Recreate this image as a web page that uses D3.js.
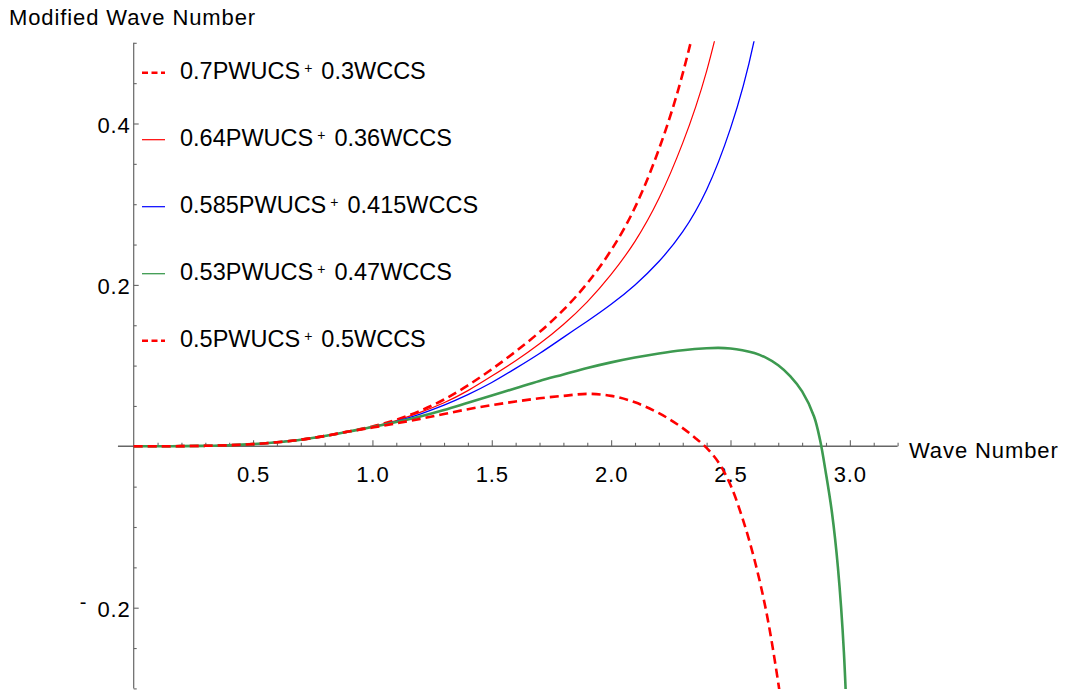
<!DOCTYPE html>
<html>
<head>
<meta charset="utf-8">
<script src="https://cdn.jsdelivr.net/npm/d3@7"></script>
<style>
  html, body { margin: 0; padding: 0; background: #fff; }
  svg { display: block; }
  text { font-family: "Liberation Sans", Arial, sans-serif; fill: #000; }
</style>
</head>
<body>
<svg id="chart" width="1065" height="692"></svg>
<script>
// Mixture weights shown in the legend
const pwucsShare = ["0.7", "0.64", "0.585", "0.53", "0.5"];
const wccsShare  = ["0.3", "0.36", "0.415", "0.47", "0.5"];

// Shared low-wavenumber part (all mixtures coincide here)
const kLow = [0, 0.1, 0.2, 0.3, 0.4, 0.5, 0.6, 0.7, 0.8, 0.9];
const wLow = [0, 0.00002, 0.0002, 0.0006, 0.0013, 0.0027, 0.005, 0.0082, 0.0127, 0.0183];

// 0.7 PWUCS + 0.3 WCCS
const kA = [1.0, 1.1, 1.2, 1.3, 1.4, 1.5, 1.6, 1.7, 1.8, 1.9, 2.0, 2.1, 2.2, 2.3, 2.4];
const wA = [0.0245, 0.033, 0.044, 0.058, 0.0755, 0.0955, 0.1175, 0.1415, 0.169, 0.202, 0.243, 0.296, 0.368, 0.462, 0.585];

// 0.64 PWUCS + 0.36 WCCS
const kB = [1.0, 1.1, 1.2, 1.3, 1.4, 1.5, 1.6, 1.7, 1.8, 1.9, 2.0, 2.1, 2.2, 2.3, 2.4, 2.5];
const wB = [0.0243, 0.032, 0.042, 0.054, 0.069, 0.087, 0.106, 0.127, 0.151, 0.179, 0.213, 0.254, 0.307, 0.376, 0.465, 0.585];

// 0.585 PWUCS + 0.415 WCCS
const kC = [1.0, 1.1, 1.2, 1.3, 1.4, 1.5, 1.6, 1.7, 1.8, 1.9, 2.0, 2.1, 2.2, 2.3, 2.4, 2.5, 2.6, 2.7];
const wC = [0.024, 0.031, 0.040, 0.051, 0.064, 0.079, 0.0965, 0.115, 0.135, 0.155, 0.176, 0.200, 0.229, 0.266, 0.318, 0.394, 0.504, 0.670];

// 0.53 PWUCS + 0.47 WCCS
const kD = [1.0, 1.1, 1.2, 1.3, 1.4, 1.5, 1.6, 1.7, 1.8, 1.9, 2.0, 2.1, 2.2, 2.3, 2.4, 2.45, 2.5, 2.55, 2.6, 2.65, 2.7, 2.75, 2.8, 2.85, 2.875, 2.9, 2.925, 2.95, 2.975, 3.0];
const wD = [0.0238, 0.030, 0.037, 0.045, 0.054, 0.063, 0.072, 0.081, 0.089, 0.097, 0.104, 0.110, 0.115, 0.119, 0.1215, 0.122, 0.1212, 0.119, 0.1155, 0.1095, 0.1005, 0.087, 0.068, 0.037, 0.008, -0.034, -0.082, -0.150, -0.255, -0.45];

// 0.5 PWUCS + 0.5 WCCS
const kE = [1.0, 1.1, 1.2, 1.3, 1.4, 1.5, 1.6, 1.7, 1.8, 1.9, 2.0, 2.1, 2.2, 2.25, 2.3, 2.35, 2.4, 2.45, 2.5, 2.55, 2.6, 2.65, 2.7, 2.75];
const wE = [0.0232, 0.0285, 0.034, 0.040, 0.046, 0.051, 0.0555, 0.0595, 0.0625, 0.065, 0.0625, 0.0545, 0.041, 0.0325, 0.0225, 0.011, -0.002, -0.020, -0.048, -0.089, -0.140, -0.205, -0.293, -0.40];

// Tick values
const xMajorTicks = [0.5, 1.0, 1.5, 2.0, 2.5, 3.0];
const yMajorTicks = [-0.2, 0.2, 0.4];

// ---- drawing ----
const svg = d3.select("#chart");

const x = d3.scaleLinear().domain([0, 3.2]).range([133.7, 897.6]);
const y = d3.scaleLinear().domain([-0.3, 0.5]).range([688.4, 42.8]);
const xStart = -0.066;

const smooth = d3.curveNatural;
const bend = d3.curveCatmullRom.alpha(0.5);

const series = [
  { k: kA, w: wA, curve: smooth, color: "#ff0000", width: 2.6, dash: "9,5", legendWidth: 2.6, legendDash: "6,3.5" },
  { k: kB, w: wB, curve: smooth, color: "#ff0000", width: 1.2, dash: null,  legendWidth: 1.2, legendDash: null },
  { k: kC, w: wC, curve: smooth, color: "#0000ff", width: 1.3, dash: null,  legendWidth: 1.2, legendDash: null },
  { k: kD, w: wD, curve: bend,   color: "#3d9a50", width: 2.6, dash: null,  legendWidth: 1.3, legendDash: null },
  { k: kE, w: wE, curve: bend,   color: "#ff0000", width: 2.6, dash: "9,5", legendWidth: 2.6, legendDash: "6,3.5" }
];

// clip region for the curves
svg.append("defs").append("clipPath").attr("id", "plotClip")
  .append("rect")
  .attr("x", x(xStart)).attr("y", y(0.5) - 1.5)
  .attr("width", x(3.2) - x(xStart)).attr("height", y(-0.3) - y(0.5) + 2);

const axisColor = "#666";

// axis lines
svg.append("line")
  .attr("x1", x(xStart)).attr("x2", x(3.2))
  .attr("y1", y(0)).attr("y2", y(0))
  .attr("stroke", axisColor).attr("stroke-width", 1.4);
svg.append("line")
  .attr("x1", x(0)).attr("x2", x(0))
  .attr("y1", y(-0.3)).attr("y2", y(0.5))
  .attr("stroke", axisColor).attr("stroke-width", 1.2);

const tickFont = 22, tickSpacing = "0.9px";

// x-axis minor ticks
const xMinor = d3.range(1, 33).map(i => i / 10).filter(v => !xMajorTicks.some(m => Math.abs(m - v) < 1e-9));
const gxMinor = svg.append("g").attr("transform", `translate(0,${y(0)})`)
  .call(d3.axisBottom(x).tickValues(xMinor).tickSize(-3.5).tickFormat(""));
gxMinor.select(".domain").remove();
gxMinor.selectAll(".tick line").attr("stroke", axisColor).attr("stroke-width", 1.1);

// x-axis major ticks + labels
const gxMajor = svg.append("g").attr("transform", `translate(0,${y(0)})`)
  .call(d3.axisBottom(x).tickValues(xMajorTicks).tickSize(-6).tickPadding(20).tickFormat(d3.format(".1f")));
gxMajor.select(".domain").remove();
gxMajor.selectAll(".tick line").attr("stroke", axisColor).attr("stroke-width", 1.1);
gxMajor.selectAll(".tick text")
  .attr("font-family", null).attr("fill", "#000")
  .style("font-size", tickFont + "px").style("letter-spacing", tickSpacing);

// y-axis minor ticks
const yMinor = d3.range(-6, 11).map(i => +(i * 0.05).toFixed(2))
  .filter(v => v !== 0 && !yMajorTicks.some(m => Math.abs(m - v) < 1e-9));
const gyMinor = svg.append("g").attr("transform", `translate(${x(0)},0)`)
  .call(d3.axisLeft(y).tickValues(yMinor).tickSize(-3).tickFormat(""));
gyMinor.select(".domain").remove();
gyMinor.selectAll(".tick line").attr("stroke", axisColor).attr("stroke-width", 1.1);

// y-axis major ticks + labels (negative values get a small raised minus)
const gyMajor = svg.append("g").attr("transform", `translate(${x(0)},0)`)
  .call(d3.axisLeft(y).tickValues(yMajorTicks).tickSize(-5).tickPadding(3).tickFormat(d => d3.format(".1f")(Math.abs(d))));
gyMajor.select(".domain").remove();
gyMajor.selectAll(".tick line").attr("stroke", axisColor).attr("stroke-width", 1.1);
gyMajor.selectAll(".tick text")
  .attr("font-family", null).attr("fill", "#000").attr("dy", "0.4em")
  .style("font-size", tickFont + "px").style("letter-spacing", tickSpacing)
  .each(function (d) {
    if (d < 0) {
      const t = d3.select(this);
      const label = t.text();
      t.text(null).attr("dy", null);
      t.append("tspan").text("-").style("font-size", "20px").attr("dy", 1.2);
      t.append("tspan").text(label).attr("dx", 10).attr("dy", 7.6);
    }
  });

// axis titles
svg.append("text")
  .attr("x", 9).attr("y", 25)
  .style("font-size", tickFont + "px").style("letter-spacing", tickSpacing)
  .text("Modified Wave Number");
svg.append("text")
  .attr("x", 909).attr("y", y(0) + 11.5)
  .style("font-size", tickFont + "px").style("letter-spacing", tickSpacing)
  .text("Wave Number");

// curves
const curves = svg.append("g").attr("clip-path", "url(#plotClip)");
series.forEach(s => {
  const pts = kLow.map((k, i) => [k, wLow[i]]).concat(s.k.map((k, i) => [k, s.w[i]]));
  const line = d3.line().x(d => x(d[0])).y(d => y(d[1])).curve(s.curve);
  curves.append("path")
    .datum(pts)
    .attr("d", line)
    .attr("fill", "none")
    .attr("stroke", s.color)
    .attr("stroke-width", s.width)
    .attr("stroke-dasharray", s.dash)
    .attr("stroke-linejoin", "round");
});

// legend
const legend = svg.append("g");
const rowY0 = 72.7, rowStep = 67;
series.forEach((s, i) => {
  const ry = rowY0 + i * rowStep;
  legend.append("line")
    .attr("x1", 142).attr("x2", 165)
    .attr("y1", ry).attr("y2", ry)
    .attr("stroke", s.color)
    .attr("stroke-width", s.legendWidth)
    .attr("stroke-dasharray", s.legendDash);
  const t = legend.append("text")
    .attr("x", 180).attr("y", ry + 6.6)
    .style("font-size", "23.5px");
  t.append("tspan").text(pwucsShare[i] + "PWUCS");
  t.append("tspan").text("+").style("font-size", "14px").attr("dx", 4).attr("dy", -6.8);
  t.append("tspan").text(wccsShare[i] + "WCCS").attr("dx", 9).attr("dy", 6.8);
});
</script>
</body>
</html>
